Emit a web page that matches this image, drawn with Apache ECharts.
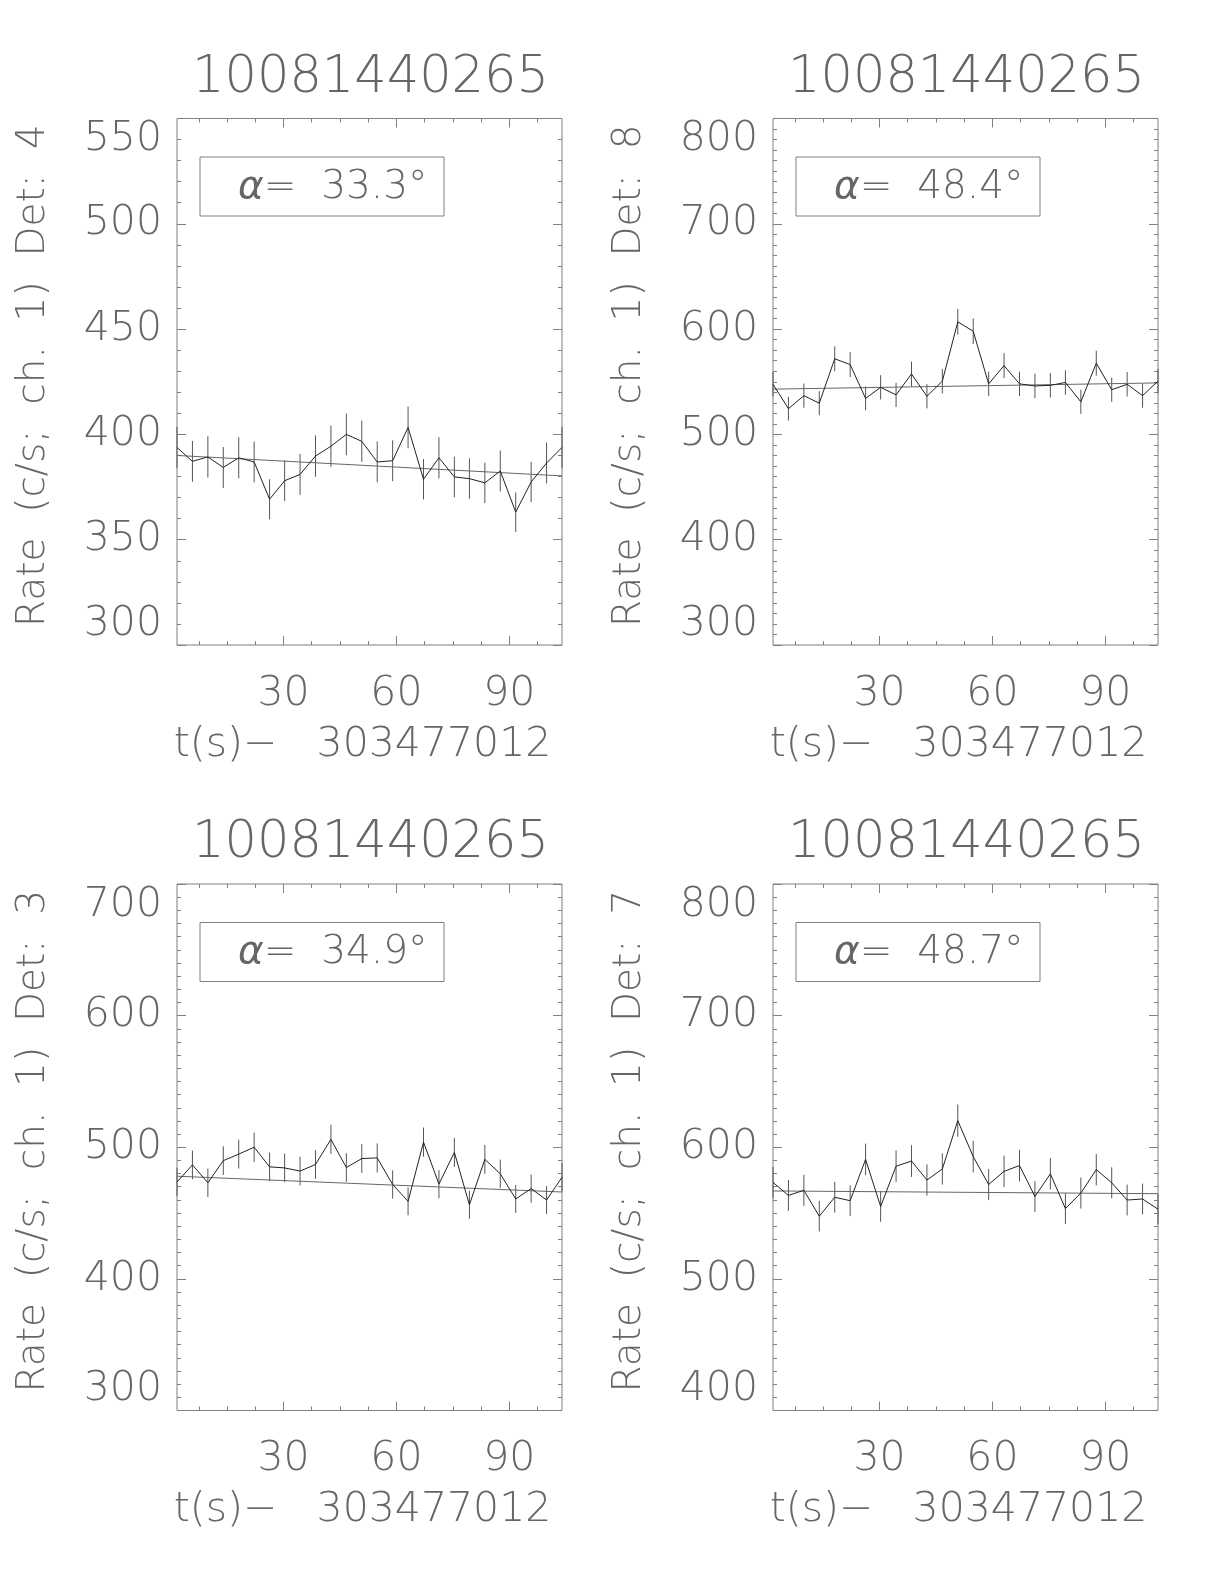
<!DOCTYPE html>
<html>
<head>
<meta charset="utf-8">
<script src="https://cdn.jsdelivr.net/npm/echarts@6/dist/echarts.min.js"></script>
<style>
html,body{margin:0;padding:0;background:#fff;}
#chart{width:1224px;height:1584px;}
</style>
</head>
<body>
<div id="chart"></div>
<script>
// ---------------- DATA ----------------
const obsId = '10081440265';
const xAxisTitle = 't(s)\u2212   303477012';
const detectors = ['4', '8', '3', '7'];
const alphaValues = ['33.3', '48.4', '34.9', '48.7'];

// time (s) since 303477012
const times = [1.7, 5.8, 9.9, 14.0, 18.1, 22.2, 26.3, 30.3, 34.4, 38.5, 42.6, 46.7, 50.8,
               54.9, 59.0, 63.1, 67.2, 71.3, 75.4, 79.4, 83.5, 87.6, 91.7, 95.8, 99.9, 104.0];

const rateDet4 = [393.8, 387.2, 389.3, 384.3, 388.9, 386.9, 369.2, 378.0, 381.0, 389.7, 394.4, 400.0, 396.7,
                  386.9, 387.5, 403.3, 378.7, 388.9, 379.8, 379.0, 377.0, 382.6, 363.1, 377.4, 386.4, 393.8];
const errDet4  = [9.8, 9.7, 9.8, 9.7, 9.8, 9.7, 9.5, 9.6, 9.7, 9.8, 9.8, 9.9, 9.8,
                  9.7, 9.7, 9.9, 9.6, 9.8, 9.6, 9.6, 9.6, 9.7, 9.4, 9.6, 9.7, 9.8];
const fitDet4  = [390.0, 380.3];

const rateDet8 = [547.6, 524.4, 536.8, 529.6, 571.8, 566.3, 534.2, 544.7, 537.5, 557.4, 536.2, 550.6, 606.9,
                  598.0, 548.0, 565.3, 548.0, 546.0, 546.6, 549.3, 530.9, 567.6, 542.4, 547.6, 536.8, 550.6];
const errDet8  = [11.6, 11.3, 11.5, 11.4, 11.8, 11.8, 11.4, 11.5, 11.5, 11.7, 11.5, 11.6, 12.2,
                  12.1, 11.6, 11.8, 11.6, 11.6, 11.6, 11.6, 11.4, 11.8, 11.5, 11.6, 11.5, 11.6];
const fitDet8  = [543.0, 548.9];

const rateDet3 = [473.6, 486.6, 473.0, 489.8, 494.8, 500.0, 485.1, 484.3, 481.9, 486.9, 506.0, 484.6, 491.4,
                  491.9, 471.7, 458.9, 503.9, 472.0, 496.1, 456.3, 490.8, 479.8, 460.7, 468.6, 459.9, 477.2];
const errDet3  = [10.8, 10.9, 10.8, 10.9, 11.0, 11.1, 10.9, 10.9, 10.9, 10.9, 11.1, 10.9, 11.0,
                  11.0, 10.7, 10.6, 11.1, 10.7, 11.0, 10.6, 11.0, 10.8, 10.6, 10.7, 10.6, 10.8];
const fitDet3  = [478.0, 466.0];

const rateDet7 = [573.3, 563.4, 567.3, 547.6, 562.0, 559.4, 590.8, 555.0, 585.6, 589.5, 575.1, 583.5, 620.2,
                  592.9, 571.7, 581.7, 586.1, 562.6, 579.8, 553.4, 565.2, 583.0, 573.0, 559.9, 560.7, 552.9];
const errDet7  = [11.8, 11.7, 11.8, 11.6, 11.7, 11.7, 12.0, 11.6, 12.0, 12.0, 11.9, 11.9, 12.3,
                  12.0, 11.8, 11.9, 12.0, 11.7, 11.9, 11.6, 11.8, 11.9, 11.8, 11.7, 11.7, 11.6];
const fitDet7  = [566.8, 564.7];

const xMajorTicks = [30, 60, 90];
const xMinorTicks = [7.5, 15, 22.5, 37.5, 45, 52.5, 67.5, 75, 82.5, 97.5];
const yMins  = [300, 300, 300, 400];
const yMaxs  = [550, 800, 700, 800];
const ySteps = [50, 100, 100, 100];
const yMinorSplits = [5, 10, 10, 10];

// ---------------- LAYOUT / STYLE ----------------
const rates = [rateDet4, rateDet8, rateDet3, rateDet7];
const errs  = [errDet4, errDet8, errDet3, errDet7];
const fits  = [fitDet4, fitDet8, fitDet3, fitDet7];

const gridLefts = [177, 773, 177, 773];
const gridTops  = [118.5, 118.5, 884, 884];
const GW = 385, GH = 526.5;
const FONT = 'DejaVu Sans';
const FW = 200;
const TXT = '#666';
const FRAME = '#808080';
const FS = 41;

const grids = [], xAxes = [], yAxes = [], series = [], graphics = [];

for (let i = 0; i < 4; i++) {
  grids.push({left: gridLefts[i], top: gridTops[i], width: GW, height: GH,
              show: true, borderColor: FRAME, borderWidth: 1, backgroundColor: 'transparent',
              outerBoundsMode: 'none', containLabel: false});
  const xmin = times[0], xmax = times[times.length - 1];
  const baseX = xAxes.length;
  const mk = (pos, ticks, len, labels) => ({
    type: 'value', gridIndex: i, position: pos, min: xmin, max: xmax,
    axisLine: {show: false}, splitLine: {show: false},
    axisTick: {show: true, inside: true, length: len, customValues: ticks,
               lineStyle: {color: FRAME, width: 1}},
    axisLabel: labels ? {show: true, customValues: ticks, margin: 28,
               fontFamily: FONT, fontWeight: FW, fontSize: FS, color: TXT, lineHeight: 42}
             : {show: false}
  });
  xAxes.push(mk('bottom', xMajorTicks, 9, true));
  xAxes.push(mk('bottom', xMinorTicks, 4, false));
  xAxes.push(mk('top', xMajorTicks, 9, false));
  xAxes.push(mk('top', xMinorTicks, 4, false));

  const baseY = yAxes.length;
  const mky = (pos, labels) => ({
    type: 'value', gridIndex: i, position: pos, min: yMins[i], max: yMaxs[i], interval: ySteps[i],
    axisLine: {show: false}, splitLine: {show: false},
    axisTick: {show: true, inside: true, length: 9, lineStyle: {color: FRAME, width: 1}},
    minorTick: {show: true, splitNumber: yMinorSplits[i], length: 4, lineStyle: {color: FRAME, width: 1}},
    axisLabel: labels ? {show: true, margin: 15, fontFamily: FONT, fontWeight: FW, fontSize: FS,
               color: TXT, lineHeight: 42,
               verticalAlignMinLabel: 'bottom', verticalAlignMaxLabel: 'top'}
             : {show: false}
  });
  yAxes.push(mky('left', true));
  yAxes.push(mky('right', false));

  const lineData = times.map((t, k) => [t, rates[i][k]]);
  const errData = times.map((t, k) => [t, rates[i][k] - errs[i][k], rates[i][k] + errs[i][k]]);
  const fitData = [[xmin, fits[i][0]], [xmax, fits[i][1]]];

  series.push({
    type: 'custom', xAxisIndex: baseX, yAxisIndex: baseY, data: errData,
    encode: {x: 0, y: [1, 2]}, silent: true,
    renderItem: function (params, api) {
      const p1 = api.coord([api.value(0), api.value(1)]);
      const p2 = api.coord([api.value(0), api.value(2)]);
      return {type: 'line', shape: {x1: p1[0], y1: p1[1], x2: p2[0], y2: p2[1]},
              style: {stroke: '#555', lineWidth: 1}};
    }
  });
  series.push({type: 'line', xAxisIndex: baseX, yAxisIndex: baseY, data: fitData,
               symbol: 'none', silent: true, lineStyle: {color: '#666', width: 1}});
  series.push({type: 'line', xAxisIndex: baseX, yAxisIndex: baseY, data: lineData,
               symbol: 'none', silent: true, lineStyle: {color: '#222', width: 1}});

  const L = gridLefts[i], T = gridTops[i];
  const cx = L + GW / 2;
  // title
  graphics.push({type: 'text', x: cx + 1, y: T - 40,
    style: {text: obsId, font: FW + ' 51px "' + FONT + '"', fill: TXT,
            textAlign: 'center', textVerticalAlign: 'middle'}});
  // y title
  graphics.push({type: 'text', x: L - 143, y: T + GH / 2 - 6, rotation: Math.PI / 2,
    style: {text: 'Rate  (c/s;  ch.  1)  Det:  ' + detectors[i], font: FW + ' 39px "' + FONT + '"',
            fill: TXT, textAlign: 'center', textVerticalAlign: 'middle'}});
  // x title
  graphics.push({type: 'text', x: cx - 7, y: T + GH + 100,
    style: {text: xAxisTitle, font: FW + ' ' + FS + 'px "' + FONT + '"', fill: TXT,
            textAlign: 'center', textVerticalAlign: 'middle'}});
  // alpha box
  graphics.push({type: 'rect', shape: {x: L + 23, y: T + 38.5, width: 244, height: 59},
    style: {fill: 'none', stroke: FRAME, lineWidth: 1}});
  graphics.push({type: 'text', x: L + 61, y: T + 69,
    style: {text: '{a|\u03b1}=  ' + alphaValues[i] + '\u00b0',
            font: FW + ' 39px "' + FONT + '"', fill: TXT,
            textAlign: 'left', textVerticalAlign: 'middle',
            rich: {a: {fontStyle: 'italic', fontFamily: FONT, fontWeight: FW, fontSize: 39, fill: TXT, color: TXT}}}});
}

const chart = echarts.init(document.getElementById('chart'), null, {renderer: 'canvas'});
chart.setOption({
  animation: false,
  backgroundColor: '#fff',
  grid: grids,
  xAxis: xAxes,
  yAxis: yAxes,
  series: series,
  graphic: {elements: graphics}
});
</script>
</body>
</html>
